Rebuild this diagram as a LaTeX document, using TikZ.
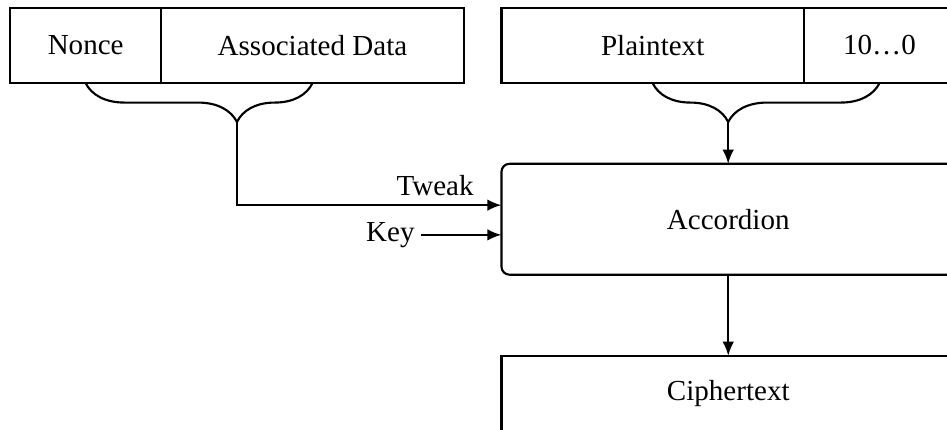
\documentclass[tikz,border=0pt]{standalone}
\usepackage{fontspec}
\setmainfont{Liberation Serif}
\usetikzlibrary{arrows.meta, positioning, calc, decorations.pathreplacing}

\begin{document}
\begin{tikzpicture}[
    font=\fontsize{16.4pt}{19.7pt}\selectfont,
    field/.style={draw, line width=1.2pt, minimum height=1.5cm, outer sep=0pt},
    cipher/.style={draw, line width=1.2pt, minimum width=9cm, minimum height=2.2cm, rounded corners=4.5pt, outer sep=0pt},
    arrow/.style={-{Latex[length=2.8mm, width=2.3mm]}, line width=1.2pt},
    curly/.style={decorate, decoration={brace, mirror, amplitude=0.77cm}, line width=1.2pt}
]
    \clip (0,0) rectangle (18.79,-8.53);

    % Inputs
    \node[field, minimum width=3cm] (nonce) at (1.7,-0.9) {Nonce};
    \node[field, minimum width=6cm, right=0pt of nonce] (ad) {Associated Data};
    \node[field, minimum width=6cm] (plain) at (12.95,-0.9) {Plaintext};
    \node[field, minimum width=3cm, right=0pt of plain] (pad) {10\ldots0};

    % Cipher and output
    \node[cipher] (acc) at (14.45,-4.35) {Accordion};
    \node[field, minimum width=9cm] (ct) at (14.45,-7.81) {Ciphertext};

    % Braces
    \draw[curly, decoration={aspect=0.667}] (nonce.south) -- (ad.south);
    \draw[curly, decoration={aspect=0.333}] (plain.south) -- (pad.south);
    \coordinate (adtip) at ($(nonce.south)!0.667!(ad.south)+(0,-0.77)$);
    \coordinate (pttip) at ($(plain.south)!0.333!(pad.south)+(0,-0.77)$);

    % Tweak and key
    \coordinate (tweakin) at ($(acc.west)+(0,0.28)$);
    \coordinate (keyin) at ($(acc.west)+(0,-0.31)$);
    \node[anchor=south east] (tweaklbl) at ($(tweakin)+(-0.43,0.07)$) {Tweak};
    \node[anchor=east] (key) at ($(keyin)+(-1.6,0)$) {Key};

    % Connections
    \draw[arrow] (adtip) |- (tweakin);
    \draw[arrow] (key) -- (keyin);
    \draw[arrow] (pttip) -- (pttip |- acc.north);
    \draw[arrow] (acc) -- (ct);
\end{tikzpicture}
\end{document}
